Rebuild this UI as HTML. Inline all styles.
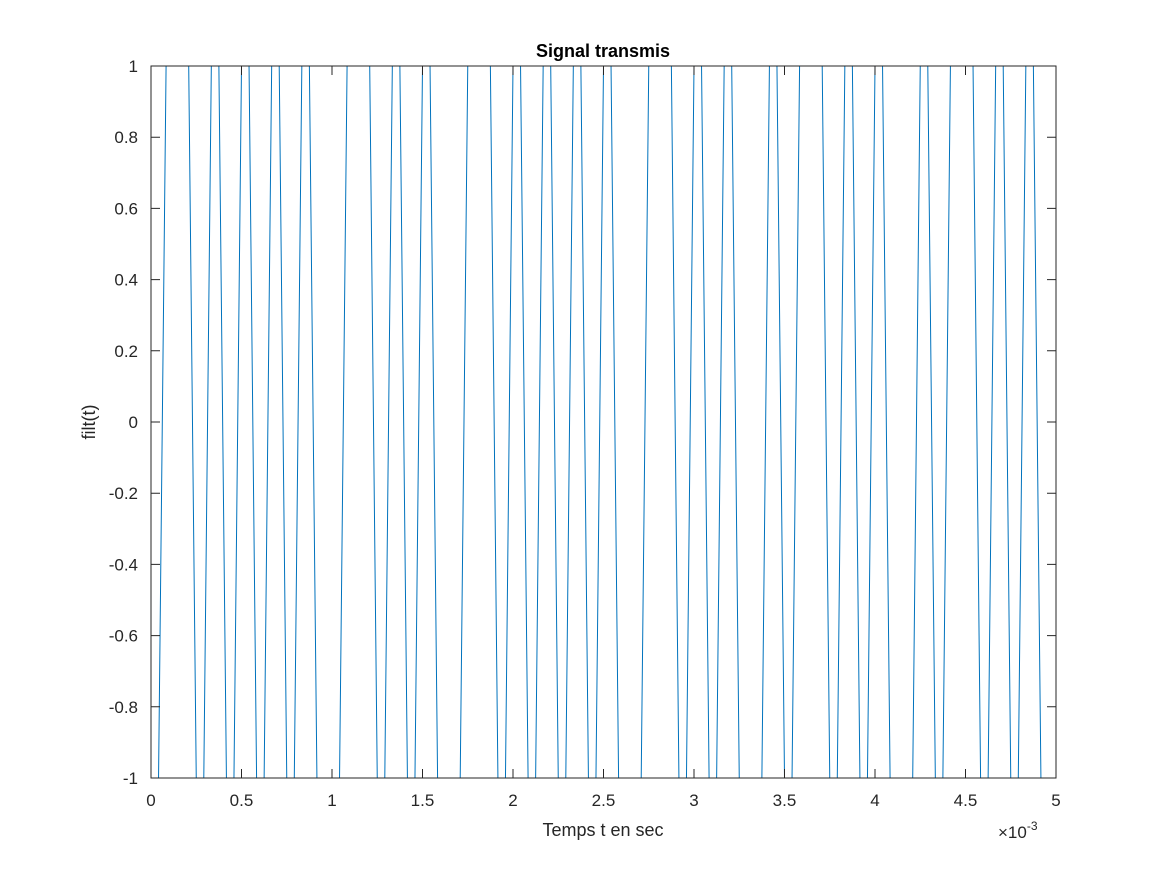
<!DOCTYPE html>
<html><head><meta charset="utf-8"><style>
html,body{margin:0;padding:0;background:#fff;}
svg{display:block;font-family:"Liberation Sans",Arial,sans-serif;}
</style></head><body>
<svg id="chart" width="1167" height="875" viewBox="0 0 1167 875">
<rect x="0" y="0" width="1167" height="875" fill="#fff"/>
<g id="grid"></g>
<path id="series" fill="none" stroke="#0072BD" stroke-width="1"/>
<rect x="151" y="66" width="905" height="712" fill="none" stroke="#262626" stroke-width="1"/>
<g id="ticks"></g>
<text x="603" y="57" text-anchor="middle" font-size="18" font-weight="bold" fill="#000">Signal transmis</text>
<text x="603" y="836" text-anchor="middle" font-size="18" fill="#262626">Temps t en sec</text>
<text x="95" y="422" text-anchor="middle" font-size="18" fill="#262626" transform="rotate(-90 95 422)">filt(t)</text>
<text x="998" y="838" font-size="17" fill="#262626">×10<tspan font-size="12" dy="-8">-3</tspan></text>
</svg>
<script>
const bits = [0,1,1,0,1,0,1,0,1,0,1,0,0,1,1,0,1,0,1,0,0,1,1,0,1,0,1,0,1,0,1,0,0,1,1,0,1,0,1,0,0,1,0,1,1,0,1,0,1,0,0,1,0,1,1,0,1,0,1,0];
const finalValue = -1;
const xTicks = [0,0.5,1,1.5,2,2.5,3,3.5,4,4.5,5];
const xTickLabels = ["0","0.5","1","1.5","2","2.5","3","3.5","4","4.5","5"];
const yTicks = [-1,-0.8,-0.6,-0.4,-0.2,0,0.2,0.4,0.6,0.8,1];
const yTickLabels = ["-1","-0.8","-0.6","-0.4","-0.2","0","0.2","0.4","0.6","0.8","1"];
const samplesPerBit = 2;
const tMax = 5; // x10^-3 s

const X0=151,X1=1056,Y0=778,Y1=66;
function sx(v){return X0+(v/tMax)*(X1-X0);}
function sy(v){return Y0-(v+1)/2*(Y0-Y1);}
const NS = "http://www.w3.org/2000/svg";

const vals=[];
bits.forEach(b=>{for(let k=0;k<samplesPerBit;k++)vals.push(b?1:-1);});
vals.push(finalValue);
const dt=tMax/(vals.length-1);
let d="";
vals.forEach((v,i)=>{d+=(i?"L":"M")+sx(i*dt).toFixed(2)+" "+sy(v).toFixed(2)+" ";});
document.getElementById("series").setAttribute("d",d);

const tg=document.getElementById("ticks");
xTicks.forEach((t,i)=>{
  const x=sx(t);
  const l=document.createElementNS(NS,"path");
  l.setAttribute("d",`M${x} ${Y0}V${Y0-9}M${x} ${Y1}V${Y1+9}`);
  l.setAttribute("stroke","#262626");
  
  
  tg.appendChild(l);
  const tx=document.createElementNS(NS,"text");
  tx.setAttribute("x",x);tx.setAttribute("y",806);
  tx.setAttribute("text-anchor","middle");tx.setAttribute("font-size","17");tx.setAttribute("fill","#262626");
  tx.textContent=xTickLabels[i];
  
  
  tg.appendChild(tx);
});
yTicks.forEach((t,i)=>{
  const y=sy(t);
  const l=document.createElementNS(NS,"path");
  l.setAttribute("d",`M${X0} ${y}H${X0+9}M${X1} ${y}H${X1-9}`);
  l.setAttribute("stroke","#262626");
  
  
  tg.appendChild(l);
  const tx=document.createElementNS(NS,"text");
  tx.setAttribute("x",138);tx.setAttribute("y",y+6);
  tx.setAttribute("text-anchor","end");tx.setAttribute("font-size","17");tx.setAttribute("fill","#262626");
  tx.textContent=yTickLabels[i];
  
  
  tg.appendChild(tx);
});
</script>
</body></html>
